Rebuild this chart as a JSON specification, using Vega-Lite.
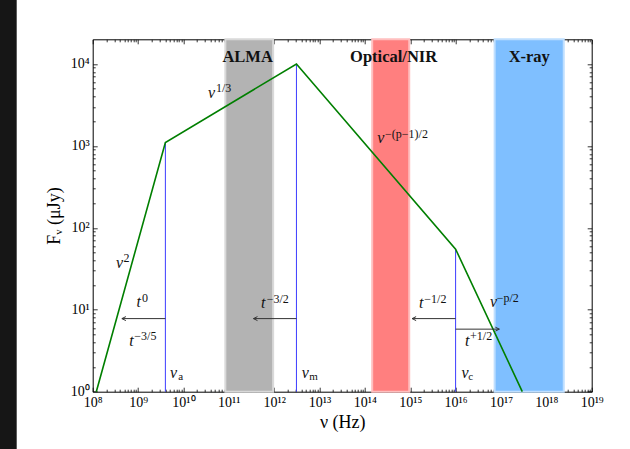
{
  "$schema": "https://vega.github.io/schema/vega-lite/v6.json",
  "width": 499,
  "height": 352.4,
  "autosize": {"type": "none"},
  "padding": {"left": 92.7, "top": 39.3, "right": 38.3, "bottom": 57.3},
  "background": "#161616",
  "config": {
    "view": {"fill": "white", "stroke": "white", "strokeWidth": 152},
    "font": "Liberation Serif",
    "axis": {
      "zindex": 1,
      "grid": false,
      "tickColor": "#000",
      "tickWidth": 0.8,
      "domainColor": "#000",
      "domainWidth": 1,
      "labelFont": "Liberation Serif",
      "labelFontSize": 14,
      "labelColor": "#000",
      "titleFont": "Liberation Serif",
      "titleFontSize": 18,
      "titleFontWeight": "normal",
      "titleColor": "#000",
      "labelFlush": false,
      "labelOverlap": false,
      "labelBound": false
    }
  },
  "datasets": {
    "sed": [
      {"nu": 1.2e8, "F": 1},
      {"nu": 4e9, "F": 1100, "brk": "a"},
      {"nu": 3.1e12, "F": 10000, "brk": "m"},
      {"nu": 1e16, "F": 55, "brk": "c"},
      {"nu": 2.95e17, "F": 1}
    ],
    "bands": [
      {"band": "ALMA", "lo": 8.4e10, "hi": 9.5e11},
      {"band": "Optical/NIR", "lo": 1.45e14, "hi": 9.5e14},
      {"band": "X-ray", "lo": 7.25e16, "hi": 2.42e18}
    ],
    "bandLabels": [
      {"nu": 2.6e11, "F": 10460, "text": "ALMA"},
      {"nu": 4.3e14, "F": 10460, "text": "Optical/NIR"},
      {"nu": 4.2e17, "F": 10460, "text": "X-ray"}
    ],
    "arrows": [
      {"start": 4e9, "end": 4.4e8, "F": 7.8, "dir": "left"},
      {"start": 3.1e12, "end": 3.5e11, "F": 7.8, "dir": "left"},
      {"start": 1e16, "end": 1.1e15, "F": 7.8, "dir": "left"},
      {"start": 1e16, "end": 9.2e16, "F": 5.8, "dir": "right"}
    ],
    "symbols": [
      {"nu": 3.48e10, "F": 3855, "text": "ν"},
      {"nu": 3.27e8, "F": 32.4, "text": "ν"},
      {"nu": 9.25e8, "F": 10.8, "text": "t"},
      {"nu": 6.41e8, "F": 3.64, "text": "t"},
      {"nu": 5.06e9, "F": 1.48, "text": "ν"},
      {"nu": 5.13e11, "F": 10.4, "text": "t"},
      {"nu": 4.06e12, "F": 1.48, "text": "ν"},
      {"nu": 1.88e14, "F": 1079, "text": "ν"},
      {"nu": 1.56e15, "F": 10.4, "text": "t"},
      {"nu": 1.34e16, "F": 1.48, "text": "ν"},
      {"nu": 5.74e16, "F": 10.7, "text": "ν"},
      {"nu": 1.61e16, "F": 3.64, "text": "t"}
    ],
    "exponents": [
      {"nu": 5.22e10, "F": 4565, "text": "1/3"},
      {"nu": 4.78e8, "F": 38.3, "text": "2"},
      {"nu": 1.22e9, "F": 12.5, "text": "0"},
      {"nu": 8.26e8, "F": 4.22, "text": "−3/5"},
      {"nu": 6.85e11, "F": 12.1, "text": "−3/2"},
      {"nu": 2.78e14, "F": 1253, "text": "−(p−1)/2"},
      {"nu": 2.04e15, "F": 12.1, "text": "−1/2"},
      {"nu": 8.05e16, "F": 12.5, "text": "−p/2"},
      {"nu": 2.08e16, "F": 4.22, "text": "+1/2"}
    ],
    "subscripts": [
      {"nu": 7.71e9, "F": 1.37, "text": "a"},
      {"nu": 5.96e12, "F": 1.37, "text": "m"},
      {"nu": 1.91e16, "F": 1.37, "text": "c"}
    ]
  },
  "resolve": {"axis": {"x": "independent", "y": "independent"}},
  "layer": [
    {
      "data": {"name": "bands"},
      "mark": {"type": "rect", "strokeWidth": 2},
      "encoding": {
        "x": {
          "field": "lo", "type": "quantitative",
          "scale": {"type": "log", "domain": [1e8, 1e19]},
          "axis": {
            "orient": "bottom",
            "values": [1e8, 1e9, 1e10, 1e11, 1e12, 1e13, 1e14, 1e15, 1e16, 1e17, 1e18, 1e19],
            "labelExpr": "'10' + (round(log(datum.value)/LN10) >= 10 ? '¹' + substring('⁰¹²³⁴⁵⁶⁷⁸⁹', round(log(datum.value)/LN10) - 10, round(log(datum.value)/LN10) - 9) : substring('⁰¹²³⁴⁵⁶⁷⁸⁹', round(log(datum.value)/LN10), round(log(datum.value)/LN10) + 1))",
            "tickSize": -4.5,
            "labelPadding": 8.5,
            "domain": true,
            "title": "ν (Hz)",
            "titlePadding": 4
          }
        },
        "x2": {"field": "hi"},
        "fill": {
          "field": "band", "type": "nominal", "legend": null,
          "scale": {"domain": ["ALMA", "Optical/NIR", "X-ray"], "range": ["#b3b3b3", "#ff7f7f", "#7fbfff"]}
        },
        "stroke": {
          "field": "band", "type": "nominal", "legend": null,
          "scale": {"domain": ["ALMA", "Optical/NIR", "X-ray"], "range": ["#d9d9d9", "#ffbfbf", "#bfdfff"]}
        }
      }
    },
    {
      "data": {"name": "bandLabels"},
      "mark": {"type": "text", "align": "center", "baseline": "alphabetic", "fontWeight": "bold", "fontSize": 16.5, "font": "Liberation Serif", "color": "#111"},
      "encoding": {
        "x": {
          "field": "nu", "type": "quantitative",
          "scale": {"type": "log", "domain": [1e8, 1e19]},
          "axis": {
            "orient": "top",
            "values": [1e8, 1e9, 1e10, 1e11, 1e12, 1e13, 1e14, 1e15, 1e16, 1e17, 1e18, 1e19],
            "labels": false, "tickSize": -4.5, "domain": true, "title": null
          }
        },
        "y": {
          "field": "F", "type": "quantitative",
          "scale": {"type": "log", "domain": [1, 20000]},
          "axis": {
            "orient": "left",
            "values": [1, 10, 100, 1000, 10000],
            "labelExpr": "'10' + substring('⁰¹²³⁴⁵⁶⁷⁸⁹', round(log(datum.value)/LN10), round(log(datum.value)/LN10) + 1)",
            "tickSize": -4.5,
            "labelPadding": 8,
            "domain": true,
            "title": "Fᵥ (μJy)",
            "titlePadding": 7
          }
        },
        "text": {"field": "text"}
      }
    },
    {
      "data": {"name": "sed"},
      "transform": [{"filter": "isValid(datum.brk)"}],
      "mark": {"type": "rule", "color": "#3c3cff", "strokeWidth": 1},
      "encoding": {
        "x": {
          "field": "nu", "type": "quantitative",
          "scale": {"type": "log", "domain": [1e8, 1e19]},
          "axis": {
            "orient": "top",
            "values": [2e8,3e8,4e8,5e8,6e8,7e8,8e8,9e8,2e9,3e9,4e9,5e9,6e9,7e9,8e9,9e9,2e10,3e10,4e10,5e10,6e10,7e10,8e10,9e10,2e11,3e11,4e11,5e11,6e11,7e11,8e11,9e11,2e12,3e12,4e12,5e12,6e12,7e12,8e12,9e12,2e13,3e13,4e13,5e13,6e13,7e13,8e13,9e13,2e14,3e14,4e14,5e14,6e14,7e14,8e14,9e14,2e15,3e15,4e15,5e15,6e15,7e15,8e15,9e15,2e16,3e16,4e16,5e16,6e16,7e16,8e16,9e16,2e17,3e17,4e17,5e17,6e17,7e17,8e17,9e17,2e18,3e18,4e18,5e18,6e18,7e18,8e18,9e18],
            "labels": false, "tickSize": -2.5, "domain": false, "title": null
          }
        },
        "y": {
          "field": "F", "type": "quantitative",
          "scale": {"type": "log", "domain": [1, 20000]},
          "axis": {
            "orient": "right",
            "values": [1, 10, 100, 1000, 10000],
            "labels": false, "tickSize": -4.5, "domain": true, "title": null
          }
        },
        "y2": {"datum": 1}
      }
    },
    {
      "data": {"name": "sed"},
      "mark": {"type": "line", "color": "#007f00", "strokeWidth": 1.6},
      "encoding": {
        "x": {
          "field": "nu", "type": "quantitative",
          "scale": {"type": "log", "domain": [1e8, 1e19]},
          "axis": {
            "orient": "bottom",
            "values": [2e8,3e8,4e8,5e8,6e8,7e8,8e8,9e8,2e9,3e9,4e9,5e9,6e9,7e9,8e9,9e9,2e10,3e10,4e10,5e10,6e10,7e10,8e10,9e10,2e11,3e11,4e11,5e11,6e11,7e11,8e11,9e11,2e12,3e12,4e12,5e12,6e12,7e12,8e12,9e12,2e13,3e13,4e13,5e13,6e13,7e13,8e13,9e13,2e14,3e14,4e14,5e14,6e14,7e14,8e14,9e14,2e15,3e15,4e15,5e15,6e15,7e15,8e15,9e15,2e16,3e16,4e16,5e16,6e16,7e16,8e16,9e16,2e17,3e17,4e17,5e17,6e17,7e17,8e17,9e17,2e18,3e18,4e18,5e18,6e18,7e18,8e18,9e18],
            "labels": false, "tickSize": -2.5, "domain": false, "title": null
          }
        },
        "y": {
          "field": "F", "type": "quantitative",
          "scale": {"type": "log", "domain": [1, 20000]},
          "axis": {
            "orient": "left",
            "values": [2,3,4,5,6,7,8,9,20,30,40,50,60,70,80,90,200,300,400,500,600,700,800,900,2000,3000,4000,5000,6000,7000,8000,9000],
            "labels": false, "tickSize": -2.5, "domain": false, "title": null
          }
        }
      }
    },
    {
      "data": {"name": "arrows"},
      "mark": {"type": "rule", "color": "#333", "strokeWidth": 1},
      "encoding": {
        "x": {"field": "start", "type": "quantitative", "scale": {"type": "log", "domain": [1e8, 1e19]}, "axis": null},
        "x2": {"field": "end"},
        "y": {
          "field": "F", "type": "quantitative",
          "scale": {"type": "log", "domain": [1, 20000]},
          "axis": {
            "orient": "right",
            "values": [2,3,4,5,6,7,8,9,20,30,40,50,60,70,80,90,200,300,400,500,600,700,800,900,2000,3000,4000,5000,6000,7000,8000,9000],
            "labels": false, "tickSize": -2.5, "domain": false, "title": null
          }
        }
      }
    },
    {
      "data": {"name": "arrows"},
      "mark": {"type": "point", "filled": false, "stroke": "#333", "strokeWidth": 1, "size": 16, "opacity": 1},
      "encoding": {
        "x": {"field": "end", "type": "quantitative", "scale": {"type": "log", "domain": [1e8, 1e19]}, "axis": null},
        "y": {"field": "F", "type": "quantitative", "scale": {"type": "log", "domain": [1, 20000]}, "axis": null},
        "shape": {
          "field": "dir", "type": "nominal", "legend": null,
          "scale": {"domain": ["left", "right"], "range": ["M2,-1L0,0L2,1", "M-2,-1L0,0L-2,1"]}
        }
      }
    },
    {
      "data": {"name": "symbols"},
      "mark": {"type": "text", "align": "left", "baseline": "alphabetic", "font": "Liberation Serif", "fontStyle": "italic", "fontSize": 16, "color": "#111"},
      "encoding": {
        "x": {"field": "nu", "type": "quantitative", "scale": {"type": "log", "domain": [1e8, 1e19]}, "axis": null},
        "y": {"field": "F", "type": "quantitative", "scale": {"type": "log", "domain": [1, 20000]}, "axis": null},
        "text": {"field": "text"}
      }
    },
    {
      "data": {"name": "exponents"},
      "mark": {"type": "text", "align": "left", "baseline": "alphabetic", "font": "Liberation Serif", "fontSize": 12, "color": "#111"},
      "encoding": {
        "x": {"field": "nu", "type": "quantitative", "scale": {"type": "log", "domain": [1e8, 1e19]}, "axis": null},
        "y": {"field": "F", "type": "quantitative", "scale": {"type": "log", "domain": [1, 20000]}, "axis": null},
        "text": {"field": "text"}
      }
    },
    {
      "data": {"name": "subscripts"},
      "mark": {"type": "text", "align": "left", "baseline": "alphabetic", "font": "Liberation Serif", "fontSize": 11, "color": "#111"},
      "encoding": {
        "x": {"field": "nu", "type": "quantitative", "scale": {"type": "log", "domain": [1e8, 1e19]}, "axis": null},
        "y": {"field": "F", "type": "quantitative", "scale": {"type": "log", "domain": [1, 20000]}, "axis": null},
        "text": {"field": "text"}
      }
    }
  ]
}
